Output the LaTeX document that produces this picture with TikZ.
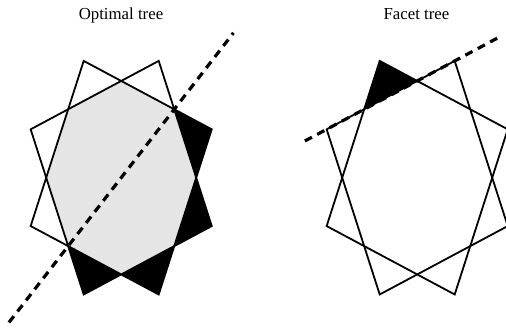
\documentclass[tikz,border=0pt]{standalone}
\usepackage{fontspec}
\setmainfont{Liberation Serif}
\usetikzlibrary{calc}
\begin{document}
\begin{tikzpicture}[x=1pt,y=1pt,
  edge/.style={line width=1.8pt, line join=miter},
  cut/.style={line width=3.2pt, dash pattern=on 8pt off 6pt},
  title/.style={font=\fontsize{16.8}{20}\selectfont, anchor=base},
  inner/.style={fill=gray!20},
  tip/.style={fill=black}]
\useasboundingbox (0,0) rectangle (506,331);
\clip (0,0) rectangle (506,331);
% ---------- left panel ----------
\node[title] (t1) at (121,311) {Optimal tree};
\begin{scope}[shift={(121.2,153.3)}, x=98pt, y=126.4pt]
  \foreach \k in {0,...,7} {
    \coordinate (La\k) at ({22.5+45*\k}:1);
    \coordinate (Li\k) at ({45*\k}:0.7654);
  }
  \fill[inner] (Li0) -- (Li1) -- (Li2) -- (Li3) -- (Li4) -- (Li5) -- (Li6) -- (Li7) -- cycle;
  \fill[tip] (Li0) -- (La0) -- (Li1) -- cycle;
  \fill[tip] (Li7) -- (La7) -- (Li0) -- cycle;
  \fill[tip] (Li6) -- (La6) -- (Li7) -- cycle;
  \fill[tip] (Li5) -- (La5) -- (Li6) -- cycle;
  \draw[edge] (La0) -- (La2) -- (La4) -- (La6) -- cycle;
  \draw[edge] (La1) -- (La3) -- (La5) -- (La7) -- cycle;
  \coordinate (Lc1) at (225:1.62);
  \coordinate (Lc2) at (45:1.62);
  \draw[cut] (Lc1) -- (Lc2);
\end{scope}
% ---------- right panel ----------
\node[title] (t2) at (416.5,311) {Facet tree};
\begin{scope}[shift={(417.2,153.3)}, x=98pt, y=126.4pt]
  \foreach \k in {0,...,7} {
    \coordinate (Ra\k) at ({22.5+45*\k}:1);
    \coordinate (Ri\k) at ({45*\k}:0.7654);
  }
  \fill[tip] (Ri2) -- (Ra2) -- (Ri3) -- cycle;
  \draw[edge] (Ra0) -- (Ra2) -- (Ra4) -- (Ra6) -- cycle;
  \draw[edge] (Ra1) -- (Ra3) -- (Ra5) -- (Ra7) -- cycle;
  \coordinate (Rc1) at ($(Ra3)!-0.17!(Ra1)$);
  \coordinate (Rc2) at ($(Ra1)!-0.35!(Ra3)$);
  \draw[cut] (Rc1) -- (Rc2);
\end{scope}
\end{tikzpicture}
\end{document}
